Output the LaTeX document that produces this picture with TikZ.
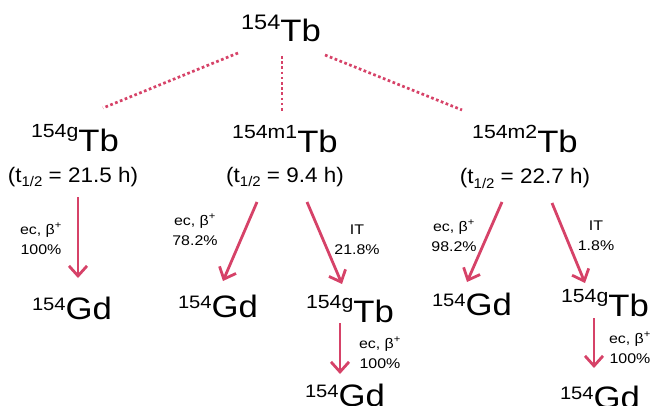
\documentclass[tikz,border=0pt]{standalone}
\usepackage{fontspec}
\setmainfont{Liberation Sans}
\usetikzlibrary{arrows.meta}
\definecolor{decay}{RGB}{214,66,104}
\newcommand\xs{1.12}
\newcommand\nucl[4]{\scalebox{\xs}[1]{\raisebox{#3}{\fontsize{#4}{#4}\selectfont #1}{\fontsize{31}{31}\selectfont #2}}}
\newcommand\thalf[1]{\scalebox{1.07}[1]{\fontsize{21}{21}\selectfont (t\raisebox{-5pt}{\fontsize{14}{14}\selectfont 1/2} = #1 h)}}
\newcommand\ecb{ec, β\textsuperscript{+}}
\newcommand\lab[2]{\scalebox{1.14}[1]{\fontsize{14}{20}\selectfont\begin{tabular}{@{}c@{}}#1\\#2\end{tabular}}}
\begin{document}
\begin{tikzpicture}[x=1pt,y=-1pt,
  nuc/.style={anchor=base,inner sep=0pt},
  hl/.style={anchor=base,inner sep=0pt},
  lbl/.style={inner sep=0pt},
  dot/.style={draw=decay,line width=2.7pt,dash pattern=on 2.7pt off 2.5pt},
  decayarrow/.style={draw=decay,line width=2.8pt,-{Straight Barb[length=10pt,width=18pt]}}]
\useasboundingbox (0,0) rectangle (652,406);

% parent
\node[nuc] (top) at (281,42) {\nucl{154}{Tb}{12pt}{21}};
% isomers
\node[nuc] (g)  at (75,152)  {\nucl{154g}{Tb}{14pt}{19}};
\node[nuc] (m1) at (285,153) {\nucl{154m1}{Tb}{14pt}{19}};
\node[nuc] (m2) at (525,153) {\nucl{154m2}{Tb}{14pt}{19}};
\node[hl] (ghl)  at (73,182)  {\thalf{21.5}};
\node[hl] (m1hl) at (285,182) {\thalf{9.4}};
\node[hl] (m2hl) at (525,183) {\thalf{22.7}};

% dotted branches
\coordinate (d1s) at (238,53);  \coordinate (d1e) at (103,108);
\coordinate (d2s) at (282,56);  \coordinate (d2e) at (282,112);
\coordinate (d3s) at (325,55);  \coordinate (d3e) at (462,110);
\draw[dot] (d1s) -- (d1e);
\draw[dot] (d2s) -- (d2e);
\draw[dot] (d3s) -- (d3e);

% products
\node[nuc] (gGd)   at (72,319)  {\nucl{154}{Gd}{9pt}{18}};
\node[nuc] (m1Gd)  at (218,317) {\nucl{154}{Gd}{9pt}{18}};
\node[nuc] (m1gTb) at (350,322) {\nucl{154g}{Tb}{14pt}{19}};
\node[nuc] (m1gGd) at (345,406) {\nucl{154}{Gd}{9pt}{18}};
\node[nuc] (m2Gd)  at (472,315) {\nucl{154}{Gd}{9pt}{18}};
\node[nuc] (m2gTb) at (605,316) {\nucl{154g}{Tb}{14pt}{19}};
\node[nuc] (m2gGd) at (600,408) {\nucl{154}{Gd}{9pt}{18}};

% decay arrows
\coordinate (a1s) at (78,197);  \coordinate (a1e) at (78,278);
\coordinate (a2s) at (257,202); \coordinate (a2e) at (223,281);
\coordinate (a3s) at (307,202); \coordinate (a3e) at (342,284);
\coordinate (a4s) at (340,323); \coordinate (a4e) at (340,374);
\coordinate (a5s) at (502,202); \coordinate (a5e) at (467,282);
\coordinate (a6s) at (552,203); \coordinate (a6e) at (585,283);
\coordinate (a7s) at (594,318); \coordinate (a7e) at (594,368);
\draw[decayarrow] (a1s) -- (a1e);
\draw[decayarrow] (a2s) -- (a2e);
\draw[decayarrow] (a3s) -- (a3e);
\draw[decayarrow] (a4s) -- (a4e);
\draw[decayarrow] (a5s) -- (a5e);
\draw[decayarrow] (a6s) -- (a6e);
\draw[decayarrow] (a7s) -- (a7e);

% labels
\node[lbl] (l1) at (41,240)  {\lab{\ecb}{100\%}};
\node[lbl] (l2) at (195,231) {\lab{\ecb}{78.2\%}};
\node[lbl] (l3) at (357,240) {\lab{IT}{21.8\%}};
\node[lbl] (l4) at (380,354) {\lab{\ecb}{100\%}};
\node[lbl] (l5) at (454,237) {\lab{\ecb}{98.2\%}};
\node[lbl] (l6) at (596,236) {\lab{IT}{1.8\%}};
\node[lbl] (l7) at (630,349) {\lab{\ecb}{100\%}};
\end{tikzpicture}
\end{document}
